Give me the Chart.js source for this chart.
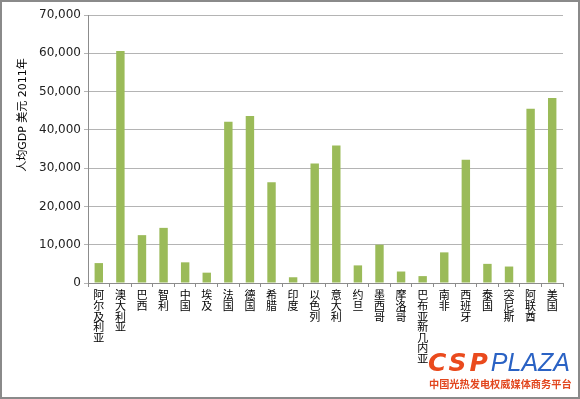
<!DOCTYPE html>
<html>
<head>
<meta charset="utf-8">
<script src="https://cdn.jsdelivr.net/npm/chart.js@4"></script>
<style>
  html, body { margin: 0; padding: 0; background: #fff; }
  #wrap {
    position: relative;
    width: 580px; height: 399px;
    box-sizing: border-box;
    border: 2px solid #8a8a8a;
    background: #fff;
    overflow: hidden;
  }
  #chart { position: absolute; left: 0; top: 0; }
  #logo {
    position: absolute; left: 426px; top: 348px;
    font-style: italic; white-space: nowrap; line-height: 1;
  }
  #logo .csp { color: #ea4a1d; font-weight: 900; font-size: 25px; letter-spacing: 3px; font-family: "DejaVu Sans", sans-serif; }
  #logo .plaza { color: #2a62c4; font-weight: normal; font-size: 25px; font-family: "Liberation Sans", sans-serif; }
  #slogan {
    position: absolute; left: 427px; top: 374px;
    color: #e2461e; font-weight: bold; font-size: 10.2px;
    font-family: "Noto Sans CJK SC", sans-serif; white-space: nowrap;
  }
</style>
</head>
<body>
<div id="wrap">
  <canvas id="chart" width="576" height="395"></canvas>
  <div id="logo"><span class="csp">CSP</span><span class="plaza">PLAZA</span></div>
  <div id="slogan">中国光热发电权威媒体商务平台</div>
</div>
<script>
const countries = ['阿尔及利亚', '澳大利亚', '巴西', '智利', '中国', '埃及', '法国', '德国', '希腊', '印度', '以色列',
    '意大利', '约旦', '墨西哥', '摩洛哥', '巴布亚新几内亚', '南非', '西班牙', '泰国', '突尼斯', '阿联酋', '美国'];
const gdpPerCapita = [5200, 60600, 12500, 14400, 5400, 2700, 42100, 43600, 26300, 1500, 31200,
    35900, 4600, 10000, 3000, 1800, 8000, 32200, 5000, 4300, 45500, 48300];
const yTitle = '人均GDP 美元 2011年';
const yMax = 70000;
const yStep = 10000;

const cjk = '"DejaVu Sans", "Noto Sans CJK SC", sans-serif';

// vertical labels: one character per line
const stackedLabels = countries.map(name => name.split(''));

const yTitlePlugin = {
    id: 'yTitle',
    afterDraw(chart) {
        const ctx = chart.ctx;
        ctx.save();
        ctx.translate(21, 113);
        ctx.rotate(-Math.PI / 2);
        ctx.font = '11px ' + cjk;
        ctx.fillStyle = '#000';
        ctx.textAlign = 'center';
        ctx.textBaseline = 'middle';
        ctx.fillText(yTitle, 0, 0);
        ctx.restore();
    }
};

new Chart(document.getElementById('chart'), {
    type: 'bar',
    data: {
        labels: stackedLabels,
        datasets: [{
            data: gdpPerCapita,
            backgroundColor: '#9bbb59',
            borderWidth: 0,
            categoryPercentage: 1,
            barPercentage: 0.39
        }]
    },
    options: {
        responsive: false,
        animation: false,
        layout: { padding: { top: 13, right: 15, left: 0, bottom: 0 } },
        plugins: {
            legend: { display: false },
            tooltip: { enabled: false }
        },
        scales: {
            x: {
                offset: true,
                grid: {
                    offset: true,
                    drawOnChartArea: false,
                    drawTicks: true,
                    tickLength: 4,
                    color: '#8c8c8c'
                },
                border: { color: '#8c8c8c' },
                ticks: {
                    autoSkip: false,
                    maxRotation: 0,
                    minRotation: 0,
                    padding: 3,
                    color: '#000',
                    font: { size: 11, family: '"Noto Sans CJK SC", sans-serif', lineHeight: 0.96 }
                },
                afterFit: scale => { scale.height = 114; }
            },
            y: {
                min: 0,
                max: yMax,
                grid: { color: '#b4b4b4', tickLength: 4 },
                border: { color: '#8c8c8c' },
                ticks: {
                    stepSize: yStep,
                    padding: 3,
                    color: '#222',
                    font: { size: 12, family: '"DejaVu Sans", sans-serif' },
                    callback: v => v.toLocaleString('en-US')
                },
                afterFit: scale => { scale.width = 86; }
            }
        }
    },
    plugins: [yTitlePlugin]
});
</script>
</body>
</html>
